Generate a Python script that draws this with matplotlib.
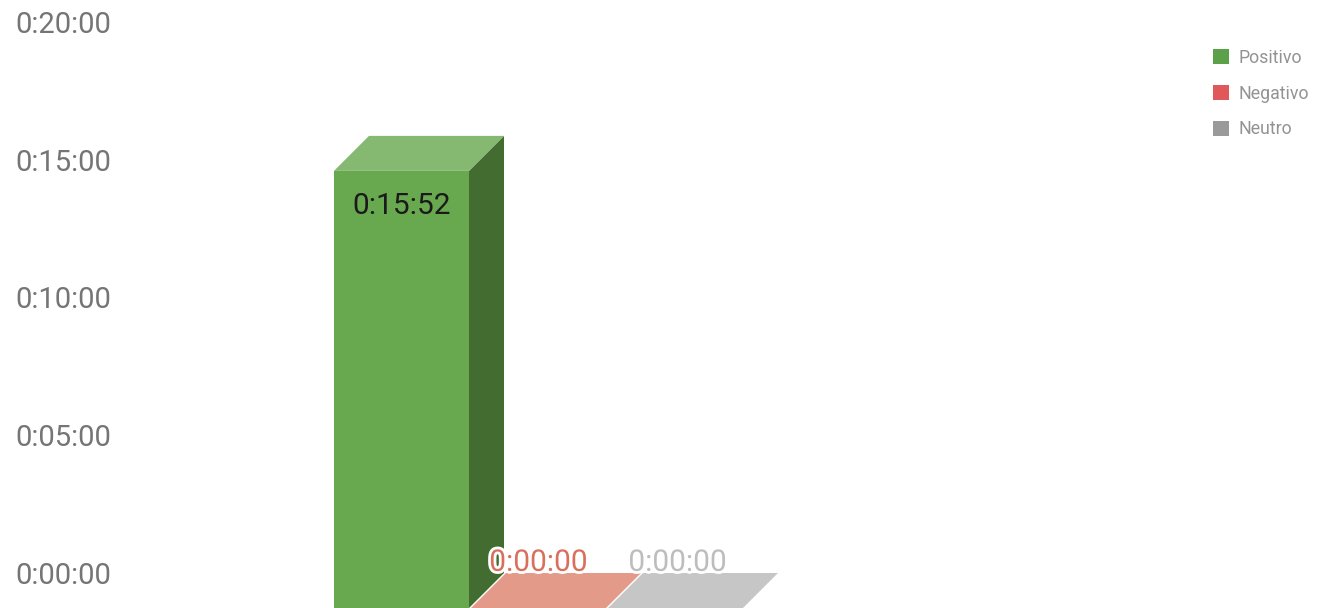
import matplotlib
matplotlib.use("Agg")
import matplotlib.pyplot as plt
import matplotlib.patches as patches
import matplotlib.patheffects as pe
from matplotlib.patches import Patch

plt.rcParams['font.family'] = ['Roboto', 'DejaVu Sans']

# data (minutes)
categories = ['Positivo', 'Negativo', 'Neutro']
values_min = [15 + 52 / 60, 0.0, 0.0]
value_labels = ['0:15:52', '0:00:00', '0:00:00']
tick_vals = [0, 5, 10, 15, 20]
tick_labels = ['0:00:00', '0:05:00', '0:10:00', '0:15:00', '0:20:00']

# colours: front, top, side, legend, label
front_cols = ['#68a84e', '#e39a88', '#c6c6c6']
top_cols = ['#85b870', '#e39a88', '#c6c6c6']
side_cols = ['#436d30', '#b97563', '#a0a0a0']
legend_cols = ['#5aa14a', '#e0585a', '#9a9a9a']
label_cols = ['#1a1a1a', '#d9705e', '#bdbdbd']

W, H = 1317, 608
fig = plt.figure(figsize=(W / 100, H / 100), dpi=100)
ax = fig.add_axes([0, 0, 1, 1])

px_per_cat = 137.0
px_per_min = 27.55
x0_px = 401.5      # centre of first front face
zero_px = 35.0     # back-face zero from bottom
ax.set_xlim(-x0_px / px_per_cat, (W - x0_px) / px_per_cat)
ax.set_ylim(-zero_px / px_per_min, (H - zero_px) / px_per_min)
ax.axis('off')

w = 135 / px_per_cat
dx = 35 / px_per_cat
dy = 35 / px_per_min

for i, v in enumerate(values_min):
    l, r = i - w / 2, i + w / 2
    front = patches.Polygon([(l, -dy), (r, -dy), (r, v - dy), (l, v - dy)],
                            closed=True, facecolor=front_cols[i], edgecolor='none')
    top = patches.Polygon([(l, v - dy), (r, v - dy), (r + dx, v), (l + dx, v)],
                          closed=True, facecolor=top_cols[i], edgecolor='none')
    side = patches.Polygon([(r, -dy), (r, v - dy), (r + dx, v), (r + dx, 0)],
                           closed=True, facecolor=side_cols[i], edgecolor='none')
    for p in (side, front, top):
        ax.add_patch(p)

    if v > 3:
        ax.annotate(value_labels[i], (i, v - dy), xytext=(0, -25), textcoords='offset points',
                    ha='center', va='center', fontsize=21.5, color=label_cols[i])
    else:
        t = ax.annotate(value_labels[i], (i, v - dy), xytext=(1.5 * (i - 1), 32.5),
                        textcoords='offset points',
                        ha='center', va='center', fontsize=21.5, color=label_cols[i])
        t.set_path_effects([pe.withStroke(linewidth=4, foreground='white')])

ytrans = ax.get_yaxis_transform()
for tv, tl in zip(tick_vals, tick_labels):
    ax.annotate(tl, (15 / W, tv), xycoords=ytrans, xytext=(0, -2), textcoords='offset points',
                ha='left', va='center', fontsize=21, color='#757575')

handles = [Patch(facecolor=c, edgecolor='none') for c in legend_cols]
leg = ax.legend(handles, categories, loc='upper left', bbox_to_anchor=(1204 / W, 1 - 40 / H),
                frameon=False, fontsize=12.8, handlelength=0.9, handleheight=0.9,
                handletextpad=0.55, labelspacing=1.0, borderpad=0)
for txt in leg.get_texts():
    txt.set_color('#939393')

fig.savefig('out.png', dpi=100)
